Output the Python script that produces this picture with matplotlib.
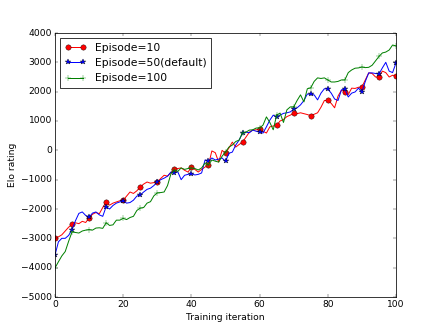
import numpy as np
from matplotlib import pyplot as plt

plt.style.use('classic')

iters = np.arange(0, 101)

# Episode=10
ep10 = [-3000, -2950, -2880, -2750, -2620, -2520, -2470, -2500, -2420, -2460,
        -2300, -2180, -2120, -2160, -1950, -1760, -1870, -1800, -1760, -1720,
        -1700, -1560, -1420, -1470, -1380, -1250, -1150, -1080, -1120, -1100,
        -1080, -960, -850, -880, -760, -650, -620, -600, -680, -740,
        -580, -650, -740, -650, -570, -500, -20, -80, -400, 0,
        -100, 80, 280, 110, 200, 280, 450, 620, 690, 700,
        720, 650, 590, 800, 830, 850, 1000, 1050, 1150, 1200,
        1260, 1250, 1280, 1250, 1220, 1180, 1230, 1280, 1470, 1700,
        1700, 1600, 1450, 1850, 2050, 2000, 1900, 2120, 2110, 2150,
        2160, 2400, 2640, 2620, 2500, 2500, 2700, 2650, 2500, 2560,
        2540]

# Episode=50 (default)
ep50 = [-3570, -3120, -3000, -3000, -2900, -2700, -2400, -2150, -2100, -2220,
        -2280, -2140, -2100, -2200, -2250, -1920, -2000, -1880, -1800, -1760,
        -1720, -1800, -1780, -1700, -1560, -1520, -1420, -1330, -1290, -1200,
        -1080, -1000, -950, -880, -740, -780, -730, -1000, -850, -820,
        -790, -840, -820, -770, -330, -360, -260, -330, -300, -260,
        -380, -100, -60, 180, 350, 590, 620, 600, 690, 650,
        620, 590, 800, 1030, 1200, 1140, 1200, 1260, 1280, 1310,
        1400, 1450, 1550, 1700, 1920, 1910, 1890, 1720, 1950, 2100,
        2090, 1950, 1750, 1700, 2060, 2090, 1820, 1950, 1990, 2120,
        1990, 2350, 2640, 2640, 2620, 2600, 2810, 3000, 2700, 2650,
        2980]

# Episode=100
ep100 = [-4010, -3800, -3600, -3450, -3100, -2780, -2800, -2820, -2750, -2720,
         -2700, -2720, -2650, -2640, -2660, -2470, -2560, -2540, -2380, -2380,
         -2320, -2360, -2290, -2250, -2050, -1970, -1950, -1800, -1750, -1550,
         -1450, -1440, -1420, -1200, -800, -670, -720, -600, -650, -620,
         -600, -620, -670, -600, -430, -500, -330, -370, -400, -200,
         -60, 110, 180, 300, 350, 600, 620, 690, 700, 760,
         760, 860, 1140, 950, 700, 1200, 1270, 950, 1380, 1480,
         1480, 1700, 1890, 1650, 2100, 2130, 2350, 2470, 2450, 2470,
         2400, 2330, 2330, 2350, 2400, 2400, 2650, 2740, 2800, 2810,
         2840, 2820, 2830, 2900, 3050, 3200, 3320, 3350, 3420, 3590,
         3560]

fig = plt.figure(figsize=(8, 6), dpi=55, facecolor='white')
ax = fig.add_subplot(111)

ax.plot(iters, ep10, 'r-o', markevery=5, markersize=7, lw=1.3, label="Episode=10")
ax.plot(iters, ep50, 'b-*', markevery=5, markersize=7, lw=1.3, label="Episode=50(default)")
ax.plot(iters, ep100, 'g-+', markevery=5, markersize=7, lw=1.3, label="Episode=100")

ax.set_xlim(0, 100)
ax.set_ylim(-5000, 4000)
ax.set_xlabel("Training iteration")
ax.set_ylabel("Elo rating")
ax.legend(loc='upper left', numpoints=2, fontsize=14)

fig.savefig("out.png", dpi=55, facecolor='white')
